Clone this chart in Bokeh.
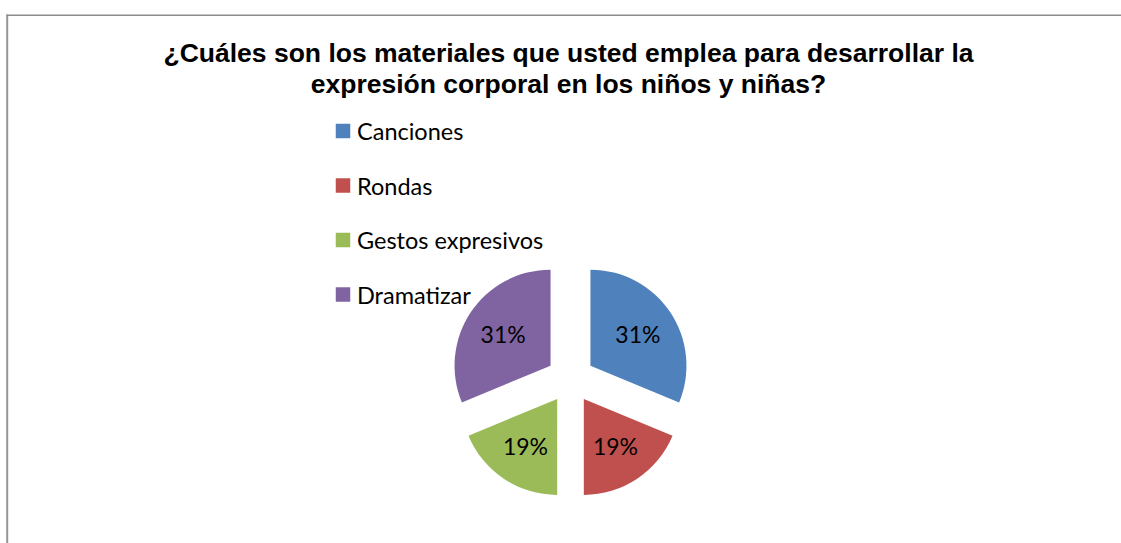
import math
from bokeh.plotting import figure
from bokeh.models import Range1d, ColumnDataSource
from bokeh.core.properties import value
from bokeh.embed import file_html
from bokeh.resources import INLINE

# ---- data ----
title_lines = ["¿Cuáles son los materiales que usted emplea para desarrollar la",
               "expresión corporal en los niños y niñas?"]
categories = ["Canciones", "Rondas", "Gestos expresivos", "Dramatizar"]
counts = [5, 3, 3, 5]
colors = ["#4F81BD", "#C0504D", "#9BBB59", "#8064A2"]

# ---- layout (pixels, data units == pixels) ----
W, H = 1121, 543
CX, CY = 570, 164.5      # pie centre
R = 96                   # radius
EXPLODE = 24             # explosion distance
LABEL_D = 81             # label distance from centre

p = figure(width=W, height=H, x_range=Range1d(0, W), y_range=Range1d(0, H),
           output_backend="svg", toolbar_location=None, min_border=0,
           x_axis_location=None, y_axis_location=None)
p.grid.visible = False
p.outline_line_color = None
p.background_fill_color = "white"
p.border_fill_color = "white"

# frame (left and top edges of the chart area)
p.line(x=[6.7, 6.7], y=[0, 529], line_color="#959595", line_width=2)
p.line(x=[6, W], y=[528.3, 528.3], line_color="#8c8c8c", line_width=1.5)

# ---- pie ----
total = float(sum(counts))
xs, ys, starts, ends, lxs, lys, labels = [], [], [], [], [], [], []
cum = 0
for c in counts:
    a0 = cum / total * 2 * math.pi
    a1 = (cum + c) / total * 2 * math.pi
    mid = (a0 + a1) / 2
    starts.append(math.pi / 2 - a1)
    ends.append(math.pi / 2 - a0)
    xs.append(CX + EXPLODE * math.sin(mid))
    ys.append(CY + EXPLODE * math.cos(mid))
    lxs.append(CX + LABEL_D * math.sin(mid))
    lys.append(CY + LABEL_D * math.cos(mid))
    labels.append(f"{round(100 * c / total)}%")
    cum += c

src = ColumnDataSource(dict(x=xs, y=ys, start=starts, end=ends, color=colors,
                            lx=lxs, ly=lys, label=labels, cat=categories))
p.wedge(x="x", y="y", radius=R, start_angle="start", end_angle="end",
        fill_color="color", line_color=None, source=src)
p.text(x="lx", y="ly", text="label", source=src, text_align="center",
       text_baseline="middle", text_font=value("Lato"), text_font_size="23px",
       text_color="#000000")

# ---- title ----
TX = 568
p.text(x=[TX, TX], y=[491, 460], text=title_lines, text_align="center",
       text_baseline="middle", text_font=value("Liberation Sans"),
       text_font_style="bold", text_font_size="26.5px", text_color="#000000")

# ---- legend ----
LX, LY0, PITCH = 342.5, 412.5, 54.5
leg_y = [LY0 - i * PITCH for i in range(len(categories))]
p.scatter(x=[LX] * len(categories), y=leg_y, marker="square", size=14.5,
          fill_color=colors, line_color=None)
p.text(x=[LX + 14] * len(categories), y=leg_y, text=categories,
       text_align="left", text_baseline="middle", text_font=value("Lato"),
       text_font_size="23.5px", text_color="#000000")

open("out.html", "w").write(file_html(p, INLINE))
